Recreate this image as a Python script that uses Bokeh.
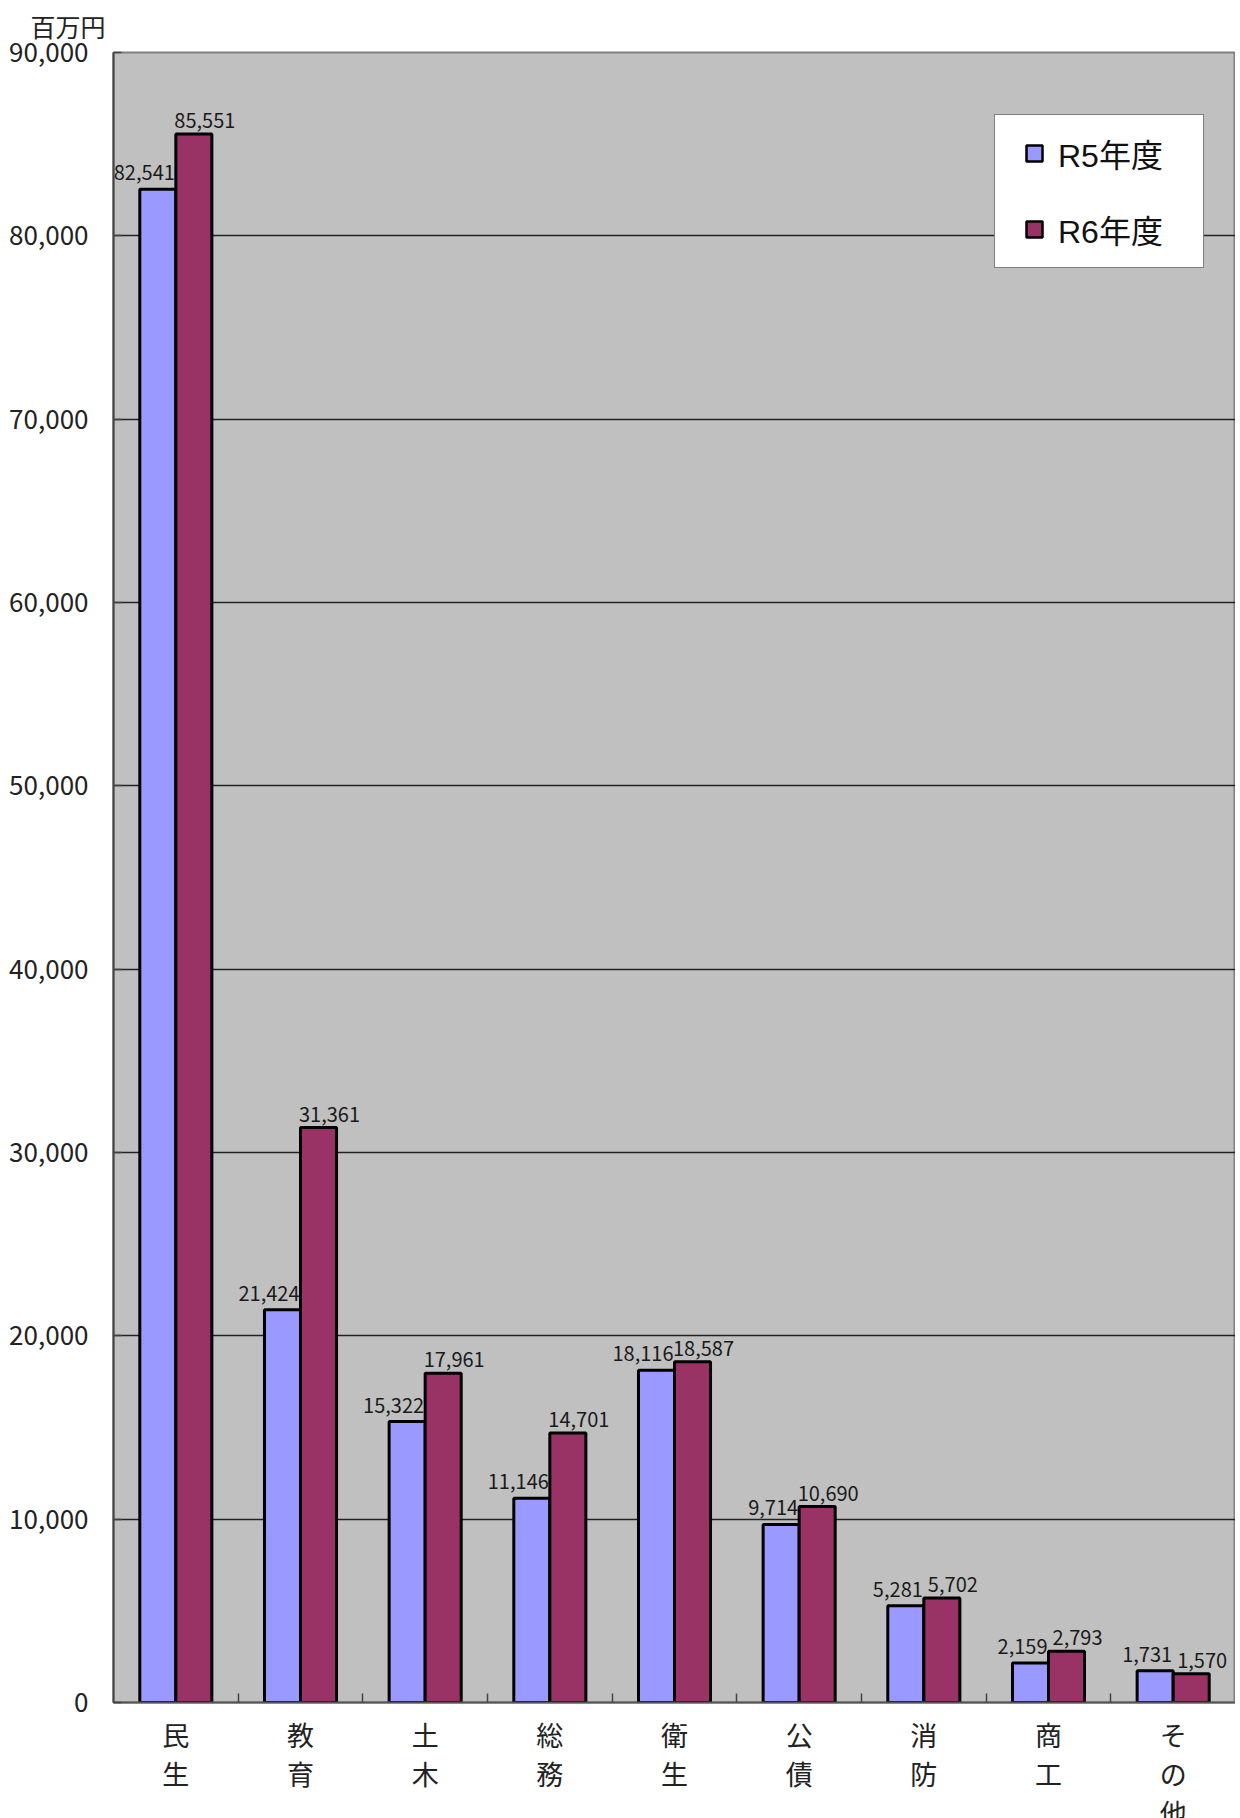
from bokeh.plotting import figure
from bokeh.models import (Range1d, FixedTicker, NumeralTickFormatter, Legend, LegendItem,
                          Title, ColumnDataSource)
from bokeh.core.properties import value
from bokeh.embed import file_html
from bokeh.resources import INLINE

categories = ["民生", "教育", "土木", "総務", "衛生", "公債", "消防", "商工", "その他"]
series_names = ["R5年度", "R6年度"]
r5_values = [82541, 21424, 15322, 11146, 18116, 9714, 5281, 2159, 1731]
r6_values = [85551, 31361, 17961, 14701, 18587, 10690, 5702, 2793, 1570]
y_ticks = [0, 10000, 20000, 30000, 40000, 50000, 60000, 70000, 80000, 90000]
unit_label = "百万円"

FONT = "Noto Sans CJK JP"
MIXED = "Liberation Sans, Noto Sans CJK JP"
C5 = "#9999FF"
C6 = "#993366"

n = len(categories)
centers = [i + 0.5 for i in range(n)]
bw = 0.289
off = 0.1445

p = figure(frame_width=1122, frame_height=1650, x_range=Range1d(0, n), y_range=Range1d(0, 90000),
           output_backend="svg", toolbar_location=None,
           min_border_left=113, min_border_top=52, min_border_right=0, min_border_bottom=116)
p.background_fill_color = "#C0C0C0"
p.border_fill_color = "white"
p.outline_line_color = "#808080"
p.outline_line_width = 2

src = ColumnDataSource(dict(
    x5=[c - off for c in centers], x6=[c + off for c in centers],
    x5r=[c - off + bw / 2 for c in centers],
    v5=r5_values, v6=r6_values,
    t5=[f"{v:,}" for v in r5_values], t6=[f"{v:,}" for v in r6_values],
))

b5 = p.vbar(x="x5", top="v5", width=bw, bottom=0, source=src, fill_color=C5,
            line_color="black", line_width=3)
b6 = p.vbar(x="x6", top="v6", width=bw, bottom=0, source=src, fill_color=C6,
            line_color="black", line_width=3)

p.text(x="x5r", y="v5", text="t5", source=src, text_align="right", text_baseline="bottom",
       x_offset=-1, y_offset=-9, text_font=value(FONT), text_font_size="20px", text_color="#1a1a1a")
p.text(x="x6", y="v6", text="t6", source=src, text_align="center", text_baseline="bottom",
       x_offset=11, y_offset=-6, text_font=value(FONT), text_font_size="20px", text_color="#1a1a1a")

# legend swatches (hidden renderers, used only to draw the legend squares)
s5 = p.scatter(x="x5", y="v5", source=src, marker="square", size=16, fill_color=C5,
               line_color="black", line_width=2.5, visible=False)
s6 = p.scatter(x="x6", y="v6", source=src, marker="square", size=16, fill_color=C6,
               line_color="black", line_width=2.5, visible=False)

# grid
p.xgrid.grid_line_color = None
p.ygrid.ticker = FixedTicker(ticks=y_ticks)
p.ygrid.grid_line_color = "#222222"
p.ygrid.grid_line_width = 1.5

# y axis
p.yaxis.ticker = FixedTicker(ticks=y_ticks)
p.yaxis.formatter = NumeralTickFormatter(format="0,0")
p.yaxis.major_label_text_font = FONT
p.yaxis.major_label_text_font_size = "26px"
p.yaxis.major_label_text_color = "#222222"
p.yaxis.major_label_standoff = 25
p.yaxis.major_tick_in = 8
p.yaxis.major_tick_out = 0
p.yaxis.minor_tick_line_color = None
p.yaxis.axis_line_color = "#444444"
p.yaxis.axis_line_width = 2
p.yaxis.major_tick_line_color = "#444444"
p.yaxis.major_tick_line_width = 1.5

# x axis
p.xaxis.ticker = FixedTicker(ticks=centers, minor_ticks=[float(i) for i in range(1, n)])
p.xaxis.major_label_overrides = {c: "\n".join(list(cat)) for c, cat in zip(centers, categories)}
p.xaxis.major_label_text_font = FONT
p.xaxis.major_label_text_font_size = "27px"
p.xaxis.major_label_text_color = "#222222"
p.xaxis.major_label_text_line_height = 1.0
p.xaxis.major_label_standoff = 12
p.xaxis.major_tick_in = 0
p.xaxis.major_tick_out = 0
p.xaxis.minor_tick_in = 9
p.xaxis.minor_tick_out = 0
p.xaxis.minor_tick_line_color = "#444444"
p.xaxis.minor_tick_line_width = 1.5
p.xaxis.axis_line_color = "#555555"
p.xaxis.axis_line_width = 2

# unit label
p.add_layout(Title(text=unit_label, align="left", offset=-83, standoff=20,
                   text_font="DejaVu Sans, Noto Sans CJK JP", text_font_size="25px",
                   text_color="#222222", text_font_style="normal"), "above")

legend = Legend(items=[LegendItem(label=series_names[0], renderers=[s5]),
                       LegendItem(label=series_names[1], renderers=[s6])],
                location=(881, 1434))
legend.background_fill_color = "white"
legend.background_fill_alpha = 1.0
legend.border_line_color = "black"
legend.border_line_width = 1.5
legend.inactive_fill_alpha = 0.0
legend.label_text_font = MIXED
legend.label_text_font_size = "32px"
legend.label_text_color = "#111111"
legend.glyph_width = 48
legend.glyph_height = 40
legend.label_standoff = -4
legend.padding = 15
legend.spacing = 30
legend.label_height = 30
legend.label_width = 130
legend.margin = 0
p.add_layout(legend, "center")

open("out.html", "w").write(file_html(p, INLINE))
